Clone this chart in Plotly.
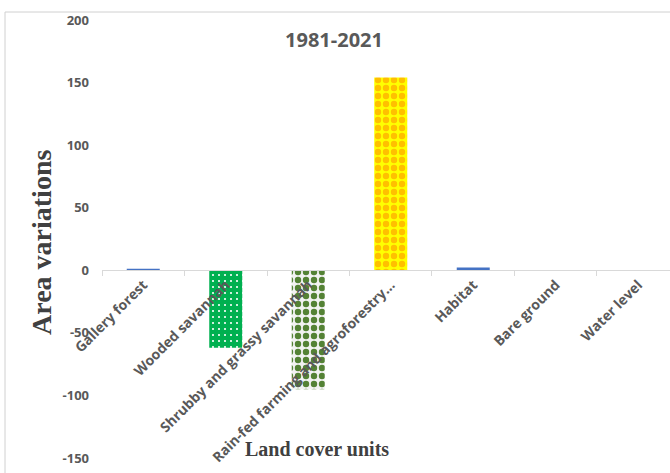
import plotly.graph_objects as go

categories = ["Gallery forest", "Wooded savannah", "Shrubby and grassy savannah",
              "Rain-fed farming and agroforestry…", "Habitat", "Bare ground", "Water level"]
values = [1.2, -62, -95, 154, 2.3, 0, 0]
bar_colors = ["#4472C4", "#00B050", "#F2F2F2", "#FFFF00", "#4472C4", "#4472C4", "#4472C4"]
pattern_shapes = ["", ".", ".", ".", "", "", ""]
pattern_fg = ["#4472C4", "#FFFFFF", "#548235", "#FFC000", "#4472C4", "#4472C4", "#4472C4"]
pattern_size = [8, 6, 8, 8, 8, 8, 8]
pattern_solidity = [0.3, 0.1, 0.5, 0.5, 0.3, 0.3, 0.3]
y_ticks = [-150, -100, -50, 0, 50, 100, 150, 200]
y_tick_text = ["-150", "-100", "-50", "0", "50", "100", "150", "200"]

W, H = 670, 473
ml, mr, mt, mb = 102, 0, 20, 15
PW, PH = W - ml - mr, H - mt - mb
ymin, ymax = -150, 200


def px_x(px):
    return (px - ml) / PW


def px_y(py):
    return (H - mb - py) / PH


fig = go.Figure()
for i, cat in enumerate(categories):
    fig.add_trace(go.Bar(
        x=[cat], y=[values[i]], width=0.4,
        marker=dict(color=bar_colors[i], line=dict(width=0),
                    pattern=dict(shape=pattern_shapes[i], fgcolor=pattern_fg[i],
                                 bgcolor=bar_colors[i], size=pattern_size[i],
                                 solidity=pattern_solidity[i], fgopacity=1,
                                 fillmode="overlay")),
        showlegend=False,
    ))

fig.update_layout(
    width=W, height=H,
    margin=dict(l=ml, r=mr, t=mt, b=mb),
    paper_bgcolor="white", plot_bgcolor="white",
    barmode="overlay",
    font=dict(family="Open Sans", color="#595959"),
    title=dict(text="<b>1981-2021</b>", x=334 / W, xref="container", xanchor="center",
               y=1 - 40 / H, yref="container", yanchor="middle",
               font=dict(size=20, color="#595959", family="Open Sans")),
)

fig.update_yaxes(
    range=[ymin, ymax], tickvals=y_ticks, ticktext=y_tick_text, showgrid=False, zeroline=False,
    showline=False, ticks="", ticklabelstandoff=12,
    tickfont=dict(size=13, family="Open Sans", color="#595959", weight="bold"),
)
fig.update_xaxes(
    type="category", range=[-0.5, 6.385],
    categoryorder="array", categoryarray=categories,
    anchor="free", position=(0 - ymin) / (ymax - ymin),
    showline=True, linecolor="#D9D9D9", linewidth=1,
    ticks="outside", tickson="boundaries", ticklen=5, tickcolor="#D9D9D9",
    tickangle=-45, showgrid=False,
    tickfont=dict(size=14, family="Open Sans", color="#595959", weight="bold"),
)

# axis titles
fig.add_annotation(text="<b>Area variations</b>", x=px_x(41), y=px_y(243), xref="paper", yref="paper",
                   textangle=-90, showarrow=False, xanchor="center", yanchor="middle",
                   font=dict(size=28, family="Liberation Serif", color="#404040"))
fig.add_annotation(text="<b>Land cover units</b>", x=px_x(317), y=px_y(449), xref="paper", yref="paper",
                   showarrow=False, xanchor="center", yanchor="middle",
                   font=dict(size=20, family="Liberation Serif", color="#404040"))

# chart border (top and left)
fig.add_shape(type="line", xref="paper", yref="paper", x0=px_x(5), x1=px_x(680),
              y0=px_y(12), y1=px_y(12), line=dict(color="#D0D0D0", width=1))
fig.add_shape(type="line", xref="paper", yref="paper", x0=px_x(5), x1=px_x(5),
              y0=px_y(480), y1=px_y(12), line=dict(color="#D0D0D0", width=1))

fig.write_html("out.html")
